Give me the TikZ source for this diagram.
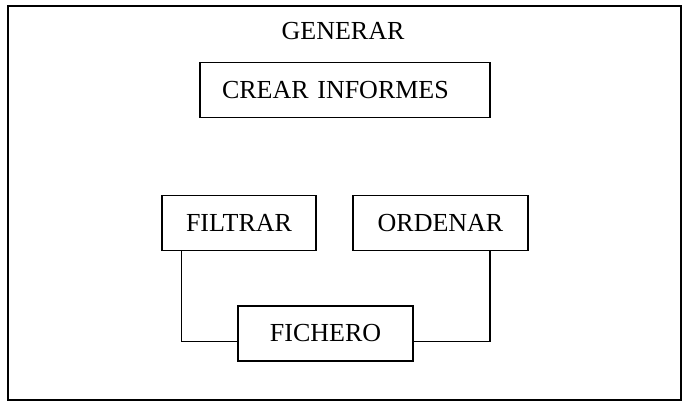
\documentclass[tikz,border=0pt]{standalone}
\usepackage{fontspec}
\setmainfont{Liberation Serif}
\begin{document}
\begin{tikzpicture}[x=1pt,y=-1pt,line width=1.5pt,
		caja/.style={draw,minimum height=55pt,inner sep=0pt,font=\fontsize{26}{30}\selectfont}]
			\useasboundingbox (0,0) rectangle (684,407);
			\draw (8,6) rectangle (681,400);
			\node[font=\fontsize{26}{30}\selectfont] (generar) at (343,31) {GENERAR};
			\node[caja,text width=246pt,inner xsep=22pt,align=left] (crear) at (345,90) {CREAR INFORMES};
			\node[caja,minimum width=154pt] (filtrar) at (239,223) {FILTRAR};
			\node[caja,minimum width=175pt] (ordenar) at (440.5,223) {ORDENAR};
			\node[caja,minimum width=175pt] (fichero) at (325.5,333.5) {FICHERO};
			\draw ([xshift=20pt]filtrar.south west) |- ([yshift=-8pt]fichero.west);
			\draw ([xshift=-39pt]ordenar.south east) |- ([yshift=-8pt]fichero.east);
\end{tikzpicture}
\end{document}
